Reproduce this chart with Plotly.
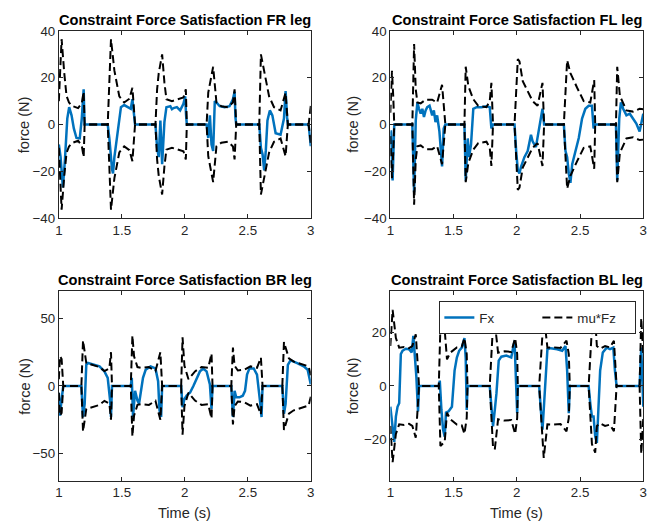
import plotly.graph_objects as go

# ---------------- data (time in s, force in N) ----------------
fr_t_fx = [1.000, 1.014, 1.032, 1.048, 1.067, 1.082, 1.101, 1.119, 1.140, 1.166, 1.182, 1.197, 1.203, 1.205,
           1.388, 1.401, 1.422, 1.430, 1.441, 1.467, 1.493, 1.519, 1.545, 1.571, 1.584, 1.597, 1.605,
           1.767, 1.780, 1.793, 1.806, 1.820, 1.838, 1.854, 1.885, 1.898, 1.911, 1.937, 1.963, 1.989, 2.003, 2.010, 2.016,
           2.173, 2.186, 2.199, 2.212, 2.225, 2.238, 2.251, 2.277, 2.316, 2.355, 2.382, 2.395, 2.402, 2.408,
           2.591, 2.604, 2.617, 2.630, 2.643, 2.656, 2.675, 2.695, 2.721, 2.760, 2.787, 2.800, 2.812, 2.818,
           2.983, 3.000]
fr_fx = [-8.6, -14, -27, -15.5, 2.5, 7.4, 3.9, -1.7, -5.8, -6.0, 2.5, 15, 2, 0,
         0, -6, -19, -21, -14, -3, 7.4, 8.3, 7.4, 6.7, 10.8, 2, 0,
         0, -10, -14, 1.7, -17, 1, 7.4, 7.8, 6.5, 7.0, 7.4, 6, 8.8, 12, 4, 0,
         0, -5.8, 3.9, -8.6, -11.4, 10, 9.4, 7.8, 7.4, 7.8, 10.8, 14, 3, 0,
         0, -10, -12.8, -19.7, -11, 1.7, 6, 3.9, -3.75, -4.4, 2.5, 14.3, 3, 0,
         0, -9.3]
fr_t_mu = [1.000, 1.022, 1.043, 1.061, 1.080, 1.101, 1.153, 1.182, 1.197, 1.205,
           1.388, 1.401, 1.414, 1.441, 1.480, 1.519, 1.560, 1.584, 1.605,
           1.767, 1.780, 1.793, 1.820, 1.838, 1.854, 1.898, 1.950, 1.989, 2.008, 2.016,
           2.173, 2.186, 2.225, 2.238, 2.251, 2.290, 2.342, 2.382, 2.395, 2.408,
           2.591, 2.604, 2.630, 2.669, 2.708, 2.760, 2.800, 2.818,
           2.983, 3.000]
fr_mu = [10, 36.5, 22, 12.2, 9.5, 8, 7, 9, 14, 0,
         0, 20, 36.5, 23, 12, 9.4, 11, 15.7, 0,
         0, 15, 22, 30, 18, 10.8, 10, 10.8, 11.5, 15, 0,
         0, 13.6, 24.7, 18, 9.4, 7.8, 7.4, 9.4, 15, 0,
         0, 30, 23, 12, 7.4, 6, 13.6, 0,
         0, 8]

fl_t_fx = [1.000, 1.005, 1.018, 1.026, 1.031,
           1.174, 1.188, 1.201, 1.214, 1.227, 1.240, 1.253, 1.266, 1.279, 1.292, 1.310, 1.331, 1.344, 1.357, 1.370, 1.388, 1.409, 1.422, 1.435,
           1.586, 1.596, 1.612, 1.622, 1.638, 1.656, 1.682, 1.721, 1.760, 1.786, 1.799, 1.812,
           1.982, 1.995, 2.008, 2.021, 2.034, 2.060, 2.086, 2.112, 2.125, 2.151, 2.177, 2.203, 2.216,
           2.372, 2.385, 2.398, 2.411, 2.424, 2.438, 2.464, 2.490, 2.516, 2.542, 2.568, 2.594, 2.607, 2.620,
           2.784, 2.794, 2.810, 2.823, 2.841, 2.867, 2.893, 2.919, 2.945, 2.971, 3.000]
fl_fx = [-3, -3, -24, -5, 0,
         0, -29, 1.7, 9.4, 6.7, 4.6, 6.7, 3.2, 6, 7.4, 8, 3.9, 6, 1, 3.9, -3, -18, -1.7, 0,
         0, -24, -6, -14, -8.6, 6.7, 7.4, 7.4, 7.8, 7.4, -1.7, 0,
         0, -11.4, -19.7, -21, -18, -14, -11.4, -4.4, -7.2, -9.7, -1.7, 6.7, 0,
         0, -11.4, -14, -21, -25, -17, -11.4, -5.8, 2.5, 6.7, 8, 8, -1.7, 0,
         0, -24, 2.5, 9.4, 6.7, 3.9, 4.6, 2.5, 0.4, -3, 4.6]
fl_t_mu = [1.000, 1.013, 1.023, 1.031,
           1.174, 1.188, 1.201, 1.214, 1.240, 1.279, 1.331, 1.370, 1.409, 1.435,
           1.586, 1.596, 1.617, 1.656, 1.695, 1.760, 1.786, 1.799, 1.812,
           1.982, 2.008, 2.021, 2.047, 2.086, 2.125, 2.164, 2.203, 2.216,
           2.372, 2.398, 2.424, 2.477, 2.529, 2.581, 2.612, 2.620,
           2.784, 2.794, 2.815, 2.867, 2.919, 2.971, 3.000]
fl_mu = [5, 23, 12, 0,
         0, 34.4, 15, 9.4, 9, 10.6, 10.6, 9.3, 17, 0,
         0, 24.7, 16.4, 10.8, 8, 7.4, 10, 17.8, 0,
         0, 28, 27, 18.5, 14.3, 10, 8, 17.8, 0,
         0, 27.5, 22, 15.7, 10, 9.4, 19, 0,
         0, 24.7, 12.2, 6, 5.5, 6.7, 6.5]

br_t_fx = [1.000, 1.009, 1.022, 1.035,
           1.179, 1.192, 1.205, 1.218, 1.231, 1.271, 1.323, 1.362, 1.388, 1.407, 1.414, 1.422,
           1.571, 1.579, 1.589, 1.605, 1.624, 1.637, 1.650, 1.668, 1.689, 1.728, 1.767, 1.788, 1.799, 1.812, 1.820,
           1.971, 1.982, 1.997, 2.016, 2.042, 2.068, 2.094, 2.120, 2.146, 2.173, 2.199, 2.212, 2.220,
           2.369, 2.382, 2.395, 2.408, 2.434, 2.460, 2.478, 2.494, 2.513, 2.547, 2.573, 2.599, 2.609, 2.617,
           2.774, 2.787, 2.800, 2.818, 2.839, 2.892, 2.944, 2.975, 2.991, 3.000]
br_fx = [-5, -22, -10, 0,
         0, -23, -13.3, 15.7, 17, 15.7, 14.5, 10.8, 6, -10.8, -23, 0,
         0, 6, -23, -3.6, -10.8, -13, -6, 6, 12, 14.5, 13, 3.6, -18, -23, 0,
         0, -15.7, -9.6, -7, -4.8, 0, 6, 10.8, 12.8, 10.8, 1.2, -17, 0,
         0, -23, -3.6, -8.4, -8.4, -7.2, -3.6, 8.4, 13, 13, 8.4, -13, -23, 0,
         0, -20.5, -13.3, 15.7, 19, 17, 14.5, 12, 6, 1.2]
br_t_mu = [1.000, 1.009, 1.022, 1.035,
           1.179, 1.192, 1.218, 1.258, 1.323, 1.362, 1.401, 1.414, 1.422,
           1.571, 1.584, 1.597, 1.624, 1.650, 1.715, 1.767, 1.806, 1.820,
           1.971, 1.982, 1.997, 2.029, 2.081, 2.133, 2.186, 2.212, 2.220,
           2.369, 2.382, 2.395, 2.421, 2.473, 2.521, 2.573, 2.604, 2.617,
           2.774, 2.787, 2.826, 2.865, 2.944, 2.983, 3.000]
br_mu = [5, 22, 20, 0,
         0, 33.7, 17, 15.7, 14, 11, 13, 25, 0,
         0, 37.3, 22, 14, 13.5, 14, 11, 25, 0,
         0, 36, 15, 5, 10.8, 14, 13.5, 24, 0,
         0, 28.5, 15, 11.5, 12, 14.5, 13.5, 21, 0,
         0, 32.5, 20.5, 18, 15.7, 14.5, 8]

bl_t_fx = [1.000, 1.013, 1.031, 1.044, 1.057, 1.070, 1.083, 1.096, 1.122, 1.148, 1.169, 1.182, 1.195, 1.206, 1.219, 1.227,
           1.383, 1.391, 1.404, 1.417, 1.430, 1.440, 1.461, 1.487, 1.508, 1.526, 1.544, 1.565, 1.586, 1.596, 1.604, 1.610,
           1.786, 1.799, 1.812, 1.826, 1.839, 1.857, 1.878, 1.917, 1.956, 1.982, 1.992, 2.003, 2.008,
           2.177, 2.190, 2.203, 2.216, 2.229, 2.242, 2.268, 2.320, 2.359, 2.385, 2.398, 2.411, 2.419,
           2.568, 2.581, 2.594, 2.607, 2.620, 2.633, 2.646, 2.659, 2.680, 2.711, 2.737, 2.763, 2.776, 2.789,
           2.971, 2.984, 3.000]
bl_fx = [-7.8, -14, -21, -11.5, -7.8, -6.5, 12, 13.2, 14, 13.8, 12.6, 18.8, 10.7, 3.3, -9.6, 0,
         0, 2, -9, -16.4, -19, -10, -9.5, -7.8, 5.8, 10.7, 13.2, 14.4, 18, 10.5, -9, 0,
         0, -6.5, -15.2, -9, -2.8, 9.5, 11, 11.4, 10.7, 17, 5.8, -10.2, 0,
         0, -9, -16.4, -6.5, 5.8, 13.8, 14.2, 13.8, 13.2, 15, 5.8, -10.2, 0,
         0, -6.5, -11.5, -11.5, -19, -21.4, -9, 5.8, 12.6, 14.4, 13.8, 14.4, 5.8, 0,
         0, 14.4, -7.8]
bl_t_mu = [1.000, 1.018, 1.044, 1.070, 1.109, 1.148, 1.174, 1.201, 1.214, 1.227,
           1.383, 1.396, 1.430, 1.448, 1.474, 1.526, 1.565, 1.586, 1.604, 1.610,
           1.786, 1.812, 1.826, 1.852, 1.904, 1.956, 1.987, 2.003, 2.008,
           2.177, 2.213, 2.242, 2.294, 2.346, 2.393, 2.411, 2.419,
           2.568, 2.594, 2.620, 2.633, 2.659, 2.698, 2.737, 2.768, 2.789,
           2.971, 2.984, 3.000]
bl_mu = [15, 28.6, 18, 14.4, 14.6, 14.2, 15, 19.4, 10, 0,
         0, 22.5, 21, 10, 12.5, 14.5, 14.8, 18, 12, 0,
         0, 23, 23.8, 12.5, 13, 12.8, 18, 12, 0,
         0, 27, 14.4, 14.5, 14.3, 17, 12, 0,
         0, 21.8, 25, 15, 14, 15, 14.5, 17, 0,
         0, 25.5, 12]

legs = ["FR", "FL", "BR", "BL"]
t_fx = [fr_t_fx, fl_t_fx, br_t_fx, bl_t_fx]
fx = [fr_fx, fl_fx, br_fx, bl_fx]
t_mu = [fr_t_mu, fl_t_mu, br_t_mu, bl_t_mu]
mu = [fr_mu, fl_mu, br_mu, bl_mu]
y_ranges = [[-40, 40], [-40, 40], [-70, 70], [-35.5, 35.5]]
y_ticks = [[-40, -20, 0, 20, 40], [-40, -20, 0, 20, 40], [-50, 0, 50], [-20, 0, 20]]
x_ticks = [1, 1.5, 2, 2.5, 3]
x_ticktext = ["1", "1.5", "2", "2.5", "3"]

# ---------------- figure ----------------
W, H = 670, 531
xdoms = [[55.5 / W, 310.5 / W], [391 / W, 647 / W]]
ydoms = [[1 - 217 / H, 1 - 24.7 / H], [1 - 487.3 / H, 1 - 292.7 / H]]

FONT = "Liberation Sans, Arial, Helvetica, sans-serif"
AX = "#262626"
BLUE = "#0072BD"
TICK_SIZE = 13.3
LABEL_SIZE = 14.6

fig = go.Figure()
layout = dict(width=W, height=H, margin=dict(l=0, r=0, t=0, b=0),
              paper_bgcolor="white", plot_bgcolor="white",
              font=dict(family=FONT, size=TICK_SIZE, color=AX),
              annotations=[])

for i, leg in enumerate(legs):
    r, c = divmod(i, 2)
    xa = "x" if i == 0 else f"x{i+1}"
    ya = "y" if i == 0 else f"y{i+1}"
    xkey = "xaxis" if i == 0 else f"xaxis{i+1}"
    ykey = "yaxis" if i == 0 else f"yaxis{i+1}"
    show = (leg == "BL")
    fig.add_trace(go.Scatter(x=t_fx[i], y=fx[i], mode="lines", name="Fx",
                             line=dict(color=BLUE, width=2.5), xaxis=xa, yaxis=ya,
                             showlegend=show, legendgroup="fx"))
    fig.add_trace(go.Scatter(x=t_mu[i], y=mu[i], mode="lines", name="mu*Fz",
                             line=dict(color="black", width=2.0, dash="8px,4px"), xaxis=xa, yaxis=ya,
                             showlegend=show, legendgroup="mu"))
    fig.add_trace(go.Scatter(x=t_mu[i], y=[-v for v in mu[i]], mode="lines", name="mu*Fz",
                             line=dict(color="black", width=2.0, dash="8px,4px"), xaxis=xa, yaxis=ya,
                             showlegend=False, legendgroup="mu"))
    common = dict(showline=True, mirror="allticks", linecolor=AX, linewidth=1,
                  ticks="inside", ticklen=4, tickcolor=AX, tickwidth=1,
                  showgrid=False, zeroline=False,
                  tickfont=dict(family=FONT, size=TICK_SIZE, color=AX))
    layout[xkey] = dict(domain=xdoms[c], range=[1, 3], tickvals=x_ticks, ticktext=x_ticktext,
                        anchor=ya, **common)
    layout[ykey] = dict(domain=ydoms[r], range=y_ranges[i], tickvals=y_ticks[i],
                        anchor=xa, **common)
    xc = (xdoms[c][0] + xdoms[c][1]) / 2
    yc = (ydoms[r][0] + ydoms[r][1]) / 2
    layout["annotations"].append(dict(
        text=f"<b>Constraint Force Satisfaction {leg} leg</b>", x=xc, y=ydoms[r][1],
        xref="paper", yref="paper", xanchor="center", yanchor="bottom", yshift=1,
        showarrow=False, font=dict(family=FONT, size=LABEL_SIZE, color="black")))
    layout["annotations"].append(dict(
        text="force (N)", x=xdoms[c][0], y=yc, xref="paper", yref="paper",
        xanchor="center", yanchor="middle", xshift=-34 if c == 0 else -37, textangle=-90,
        showarrow=False, font=dict(family=FONT, size=LABEL_SIZE, color=AX)))
    if r == 1:
        layout["annotations"].append(dict(
            text="Time (s)", x=xc, y=ydoms[r][0], xref="paper", yref="paper",
            xanchor="center", yanchor="top", yshift=-22,
            showarrow=False, font=dict(family=FONT, size=LABEL_SIZE, color=AX)))

layout["legend"] = dict(orientation="h", x=640 / W, y=1 - 303 / H, xanchor="right", yanchor="top",
                        bgcolor="white", bordercolor=AX, borderwidth=1,
                        entrywidth=53, entrywidthmode="pixels",
                        font=dict(family=FONT, size=TICK_SIZE, color=AX), tracegroupgap=0)
fig.update_layout(**layout)
fig.write_html("out.html")
